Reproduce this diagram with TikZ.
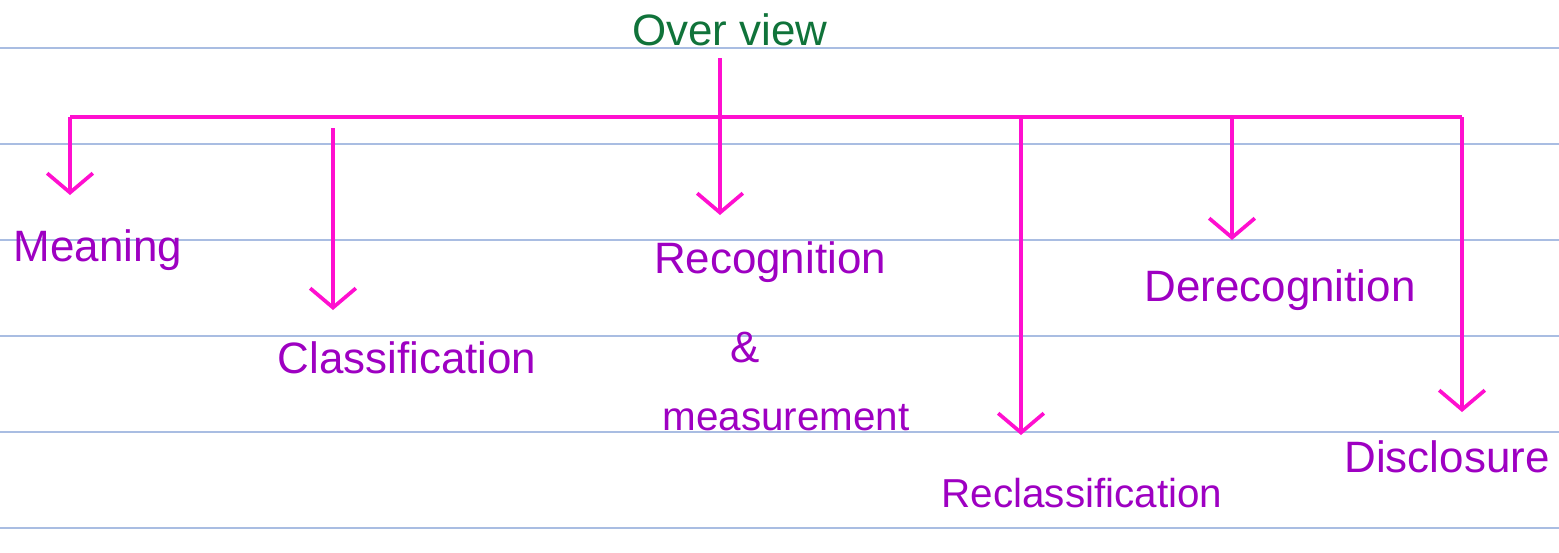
\documentclass[tikz,border=0pt]{standalone}
\usepackage{fontspec}
\setmainfont{Liberation Sans}
\usetikzlibrary{arrows.meta}
\definecolor{rule}{HTML}{A9BDE2}
\definecolor{pinkarr}{HTML}{FF0FCF}
\definecolor{purp}{HTML}{9E00C2}
\definecolor{grn}{HTML}{10733A}
\tikzset{
  ruled/.style={draw=rule, line width=0.7pt},
  conn/.style={draw=pinkarr, line width=2.1pt},
  arr/.style={conn, -{Straight Barb[length=11pt,width=26pt,line width=2.1pt]}},
  lab/.style={text=purp, font=\fontsize{25}{28}\selectfont, inner sep=0pt},
  ttl/.style={text=grn, font=\fontsize{25}{28}\selectfont, inner sep=0pt}
}
\begin{document}
\begin{tikzpicture}[x=0.02cm, y=-0.02cm]
\useasboundingbox (0,0) rectangle (1559,552);
\fill[white] (0,0) rectangle (1559,552);
% ruled lines
\foreach \yy in {48,144,240,336,432,528}
  \draw[ruled] (0,\yy) -- (1559,\yy);
% texts
\node[ttl] (title) at (730,30) {Over view};
\node[lab] (mean) at (98,250) {Meaning};
\node[lab] (class) at (407,358) {Classification};
\node[lab] (rec) at (770,262) {Recognition};
\node[lab] (amp) at (745,348) {\&};
\node[lab, font=\fontsize{23}{26}\selectfont] (meas) at (786,418) {measurement};
\node[lab, font=\fontsize{23}{26}\selectfont] (recl) at (1082,493) {Reclassification};
\node[lab] (derec) at (1280,290) {Derecognition};
\node[lab] (disc) at (1447,457) {Disclosure};
% connector coordinates
\coordinate (top) at (720,58);
\coordinate (jM) at (70,117);
\coordinate (jC) at (333,128);
\coordinate (jR) at (1021,117);
\coordinate (jD) at (1232,117);
\coordinate (jS) at (1462,117);
\coordinate (tM) at (70,195);
\coordinate (tC) at (333,310);
\coordinate (tRec) at (720,215);
\coordinate (tR) at (1021,435);
\coordinate (tD) at (1232,240);
\coordinate (tS) at (1462,412);
% connectors
\draw[conn] (jM) -- (jS);
\draw[arr] (top) -- (tRec);
\draw[arr] (jM) -- (tM);
\draw[arr] (jC) -- (tC);
\draw[arr] (jR) -- (tR);
\draw[arr] (jD) -- (tD);
\draw[arr] (jS) -- (tS);
\end{tikzpicture}
\end{document}
